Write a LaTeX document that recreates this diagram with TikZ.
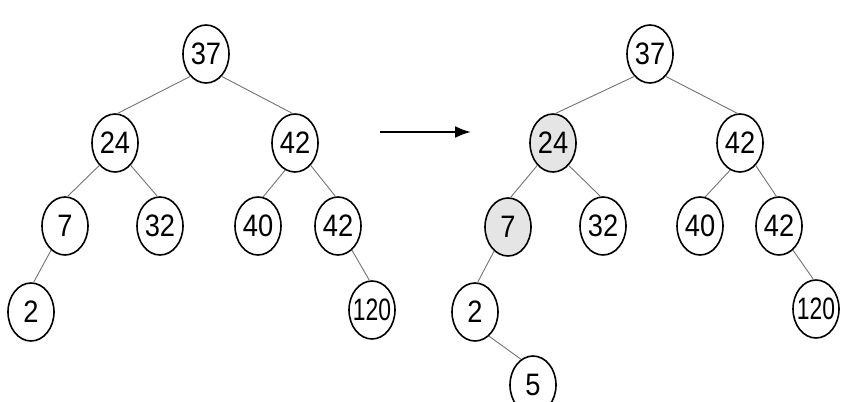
\documentclass[tikz,border=0pt]{standalone}
\usepackage{fontspec}
\newfontfamily\nodefont[FakeStretch=0.88]{Liberation Sans}
\usetikzlibrary{shapes.geometric,arrows.meta}
\begin{document}
\begin{tikzpicture}[x=1pt,y=-1pt,
  tnode/.style={ellipse,draw=black,line width=1.6pt,minimum width=46pt,minimum height=58pt,inner sep=0pt,font=\nodefont\fontsize{31}{31}\selectfont,fill=white},
  hnode/.style={tnode,fill=black!10},
  edge/.style={draw=black!55,line width=0.9pt},
  bigarrow/.style={draw=black,line width=2pt,-{Latex[length=16pt,width=12pt]}}]
\useasboundingbox (0,0) rectangle (850,401);
% left tree nodes
\node[tnode] (a37) at (206,54) {37};
\node[tnode] (a24) at (115,143) {24};
\node[tnode] (a42) at (295,143) {42};
\node[tnode] (a7) at (65,226) {7};
\node[tnode] (a32) at (160,226) {32};
\node[tnode] (a40) at (258,226) {40};
\node[tnode] (a42b) at (338,226) {42};
\node[tnode] (a2) at (31,312) {2};
\node[tnode] (a120) at (372,310) {\makebox[0pt]{\scalebox{0.84}[1]{120}}};
\draw[edge] (a37.-125) -- (a24.85);
\draw[edge] (a37.-55) -- (a42.95);
\draw[edge] (a24.-125) -- (a7.85);
\draw[edge] (a24.-55) -- (a32.95);
\draw[edge] (a42.-110) -- (a40.80);
\draw[edge] (a42.-55) -- (a42b.95);
\draw[edge] (a7.-120) -- (a2.85);
\draw[edge] (a42b.-60) -- (a120.95);
% arrow
\coordinate (s) at (380,132);
\coordinate (e) at (471,132);
\draw[bigarrow] (s) -- (e);
% right tree
\node[tnode] (b37) at (650,54) {37};
\node[hnode] (b24) at (553,143) {24};
\node[tnode] (b42) at (740,143) {42};
\node[hnode] (b7) at (508,227) {7};
\node[tnode] (b32) at (603,226) {32};
\node[tnode] (b40) at (700,226) {40};
\node[tnode] (b42b) at (779,226) {42};
\node[tnode] (b2) at (475,312) {2};
\node[tnode] (b120) at (816,309) {\makebox[0pt]{\scalebox{0.84}[1]{120}}};
\node[tnode] (b5) at (533,385) {5};
\draw[edge] (b37.-125) -- (b24.85);
\draw[edge] (b37.-55) -- (b42.95);
\draw[edge] (b24.-125) -- (b7.85);
\draw[edge] (b24.-55) -- (b32.95);
\draw[edge] (b42.-110) -- (b40.80);
\draw[edge] (b42.-55) -- (b42b.95);
\draw[edge] (b7.-120) -- (b2.85);
\draw[edge] (b2.-60) -- (b5.115);
\draw[edge] (b42b.-60) -- (b120.95);
\end{tikzpicture}
\end{document}
